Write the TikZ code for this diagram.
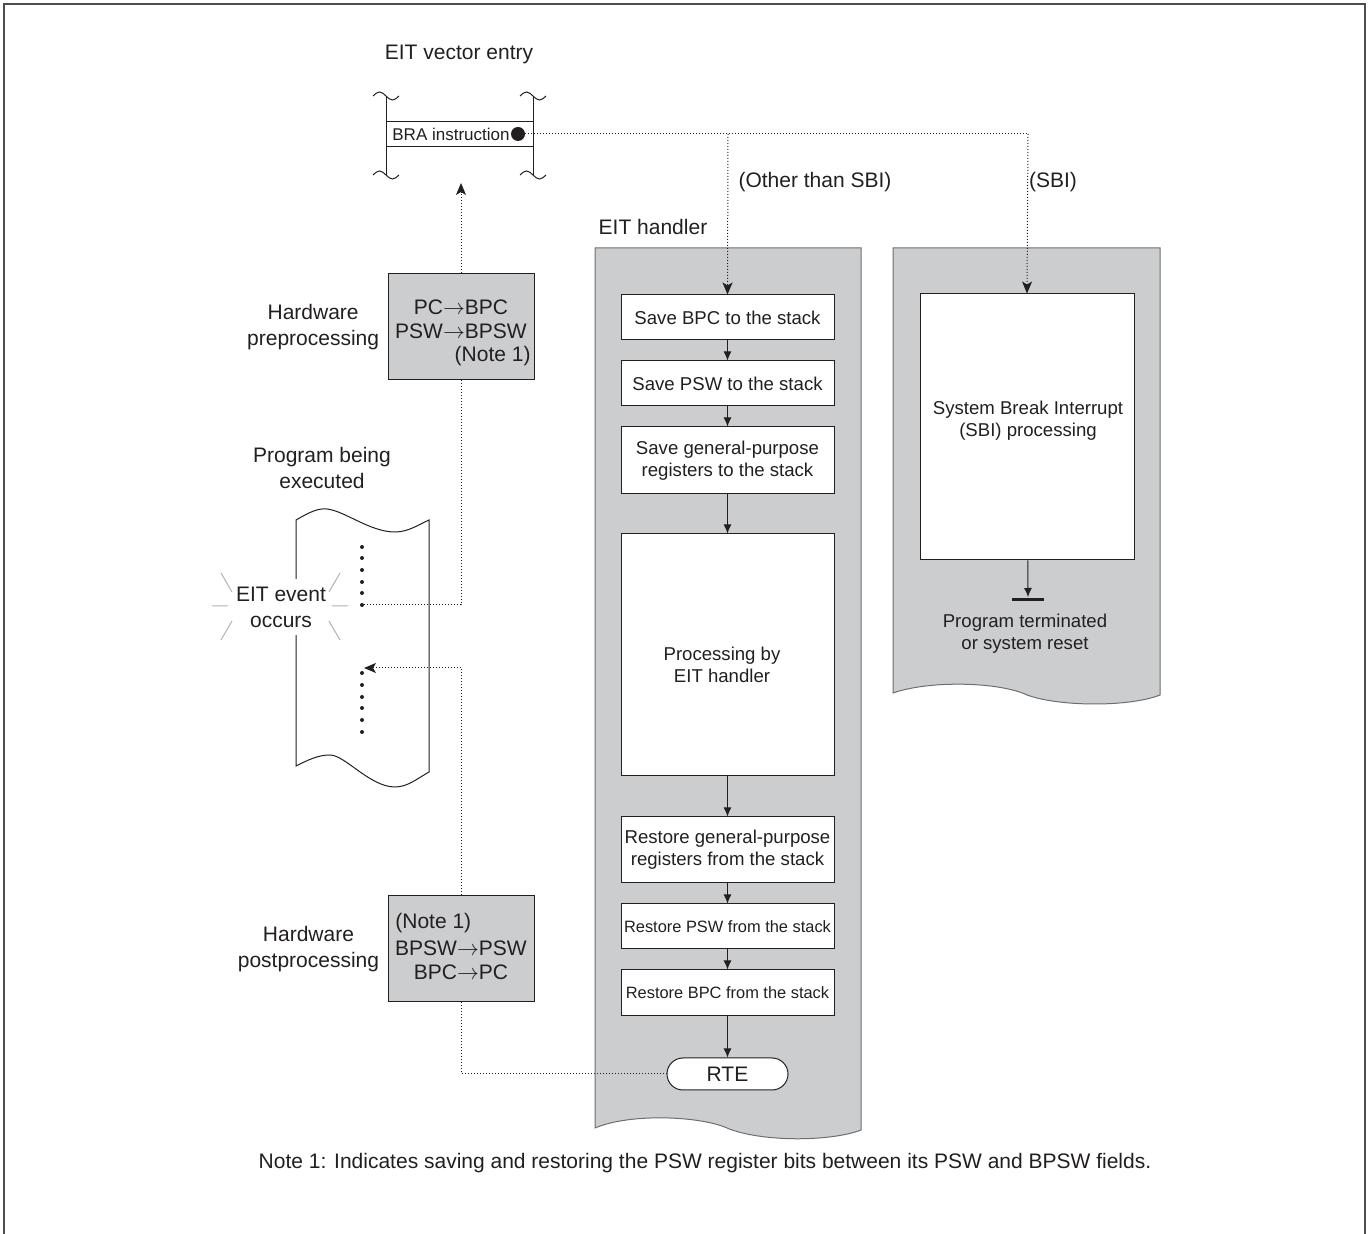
\documentclass[tikz,border=0pt]{standalone}
\usepackage{fontspec}
\setmainfont{Liberation Sans}
\usetikzlibrary{arrows.meta,calc,positioning}
\definecolor{panelgray}{HTML}{CCCDCF}
\definecolor{inkgray}{HTML}{231F20}
\definecolor{edgegray}{HTML}{6D6E70}
\newcommand{\lblfont}{\fontsize{10.5}{13}\selectfont}
\newcommand{\hwfont}{\fontsize{10.5}{12.2}\selectfont}
\newcommand{\boxfont}{\fontsize{9.3}{11}\selectfont}
\newcommand{\smallfont}{\fontsize{8.2}{10}\selectfont}
\newcommand{\toarrow}{\ensuremath{\rightarrow}}
% small wavy break mark centred at (#1,#2)
\newcommand{\breakmark}[2]{\draw[inkgray,line width=0.5pt] (#1-13,#2) sin (#1-6.5,#2-4) cos (#1,#2) sin (#1+6.5,#2+4) cos (#1+13,#2);}

\tikzset{
  stepbox/.style={draw=inkgray,fill=white,line width=0.5pt,minimum width=106.5pt,
    minimum height=22.5pt,align=center,inner sep=1pt,font=\boxfont,text=inkgray},
  hwbox/.style={draw=inkgray,fill=panelgray,line width=0.5pt,minimum width=73pt,
    minimum height=53pt,inner sep=0pt},
  hwtext/.style={font=\hwfont,text=inkgray,inner sep=0pt},
  lbl/.style={align=center,font=\lblfont,text=inkgray,inner sep=1pt},
  flow/.style={draw=inkgray,line width=0.5pt,-{Latex[length=4.5pt,width=4pt]}},
  dotline/.style={draw=inkgray,line width=0.5pt,dash pattern=on 0.5pt off 1pt},
  dotarrow/.style={dotline,-{Stealth[length=6pt,width=5pt,inset=1.5pt]}},
  panel/.style={fill=panelgray,draw=edgegray,line width=0.5pt},
}

\begin{document}
\begin{tikzpicture}[x=0.5pt,y=-0.5pt]
\useasboundingbox (0,0) rectangle (1372,1234);
\draw[edgegray!70!black,line width=1pt] (4,1234) -- (4,4) -- (1365,4) -- (1365,1234);

% gray panels
\draw[panel] (595,248) -- (861,248) -- (861,1130)
  .. controls (830,1142) and (760,1142) .. (727,1128)
  .. controls (700,1116) and (630,1113) .. (595,1128) -- cycle;
\draw[panel] (893,248) -- (1160,248) -- (1160,695)
  .. controls (1130,707) and (1060,707) .. (1027,695)
  .. controls (1000,682) and (930,680) .. (893,693) -- cycle;

% vector table
\node[lbl] (vectitle) at (459,54) {EIT vector entry};
\draw[inkgray,line width=0.5pt] (386,96) -- (386,175) (533,96) -- (533,175);
\breakmark{386}{96}
\breakmark{533}{96}
\breakmark{386}{175}
\breakmark{533}{175}
\node[draw=inkgray,fill=white,line width=0.5pt,minimum width=73.5pt,minimum height=12.5pt,
  inner sep=0pt] (bra) at (459.5,134.5) {};
\node[anchor=west,font=\fontsize{8.5}{10}\selectfont,text=inkgray,inner sep=0pt] (bratext)
  at (392,134.5) {BRA instruction};
\node[circle,fill=inkgray,inner sep=0pt,minimum size=7pt] (bradot) at (518,134) {};

% branches from the vector entry
\coordinate (otherturn) at (728,134);
\coordinate (sbiturn) at (1028,134);
\node[lbl] (othertxt) at (815,182) {(Other than SBI)};
\node[lbl] (sbitxt) at (1053,182) {(SBI)};
\node[lbl] (handlertitle) at (653,227) {EIT handler};

% EIT handler steps
\node[stepbox] (savebpc) at (727.5,317.5) {Save BPC to the stack};
\node[stepbox] (savepsw) at (727.5,383.5) {Save PSW to the stack};
\node[stepbox,minimum height=33.5pt] (savegpr) at (727.5,460.5) {Save general-purpose\\registers to the stack};
\node[stepbox,minimum height=121pt] (proc) at (727.5,655) {};
\node[lbl,font=\boxfont] (proctxt) at (722,665) {Processing by\\EIT handler};
\node[stepbox,minimum height=33pt] (restgpr) at (727.5,850) {Restore general-purpose\\registers from the stack};
\node[stepbox,font=\smallfont] (restpsw) at (727.5,926.5) {Restore PSW from the stack};
\node[stepbox,font=\smallfont,minimum height=23pt] (restbpc) at (727.5,993) {Restore BPC from the stack};
\node[stepbox,minimum width=60.5pt,minimum height=16pt,rounded corners=8pt,font=\lblfont] (rte) at (727.5,1074) {RTE};

\draw[flow] (savebpc) -- (savepsw);
\draw[flow] (savepsw) -- (savegpr);
\draw[flow] (savegpr) -- (proc);
\draw[flow] (proc) -- (restgpr);
\draw[flow] (restgpr) -- (restpsw);
\draw[flow] (restpsw) -- (restbpc);
\draw[flow] (restbpc) -- (rte);

% SBI side
\node[stepbox,minimum width=107pt,minimum height=133pt] (sbi) at (1027,427) {};
\node[lbl,font=\boxfont] (sbitext) at (1028,421) {System Break Interrupt\\(SBI) processing};
\coordinate (term) at (1028,597);
\draw[flow] (sbi) -- (term);
\draw[inkgray,line width=1.5pt] ($(term)+(-16,3)$) -- ($(term)+(16,3)$);
\node[lbl,font=\boxfont] (termtxt) at (1025,634) {Program terminated\\or system reset};

\draw[dotline] (bradot.east) -- (sbiturn);
\draw[dotarrow] (otherturn) -- (savebpc.north);
\draw[dotarrow] (sbiturn) -- (sbi.north);

% program being executed
\node[lbl] (progtitle) at (322,468) {Program being\\executed};
\draw[draw=inkgray,fill=white,line width=0.5pt] (296,520)
  .. controls (310,512) and (318,508) .. (327,509)
  .. controls (345,511) and (370,532) .. (395,532)
  .. controls (408,532) and (418,525) .. (429,520) -- (429,772)
  .. controls (418,778) and (408,787) .. (395,787)
  .. controls (370,787) and (345,755) .. (330,755)
  .. controls (318,755) and (308,760) .. (296,766) -- cycle;
\foreach \y in {547,558,570,582,593} \fill[inkgray] (362,\y) circle (2);
\foreach \y in {673,685,697,708,720,732} \fill[inkgray] (362,\y) circle (2);
\node[circle,fill=inkgray,inner sep=0pt,minimum size=2pt] (evdot) at (362,605) {};
\coordinate (retdot) at (364,668);
\node[lbl,fill=white,inner sep=4pt] (event) at (281,607) {EIT event\\occurs};
\draw[gray!60,line width=0.5pt]
  (212,606) -- (228,606) (332,606) -- (348,606)
  (221,573) -- (232,592) (340,573) -- (329,592)
  (232,621) -- (221,640) (329,621) -- (340,640);

% hardware pre- and postprocessing
\coordinate (vecin) at (461,183);
\node[hwbox] (pre) at (461,327) {};
\node[hwtext] at (461,307) {PC\toarrow BPC};
\node[hwtext] at (461,331) {PSW\toarrow BPSW};
\node[hwtext,anchor=east] at (531,356) {(Note 1)};
\node[lbl,left=3pt of pre] (prelbl) {Hardware\\preprocessing};

\node[hwbox] (post) at (461,949) {};
\node[hwtext,anchor=west] at (395,923) {(Note 1)};
\node[hwtext] at (461,948) {BPSW\toarrow PSW};
\node[hwtext] at (461,972) {BPC\toarrow PC};
\node[lbl,left=3pt of post] (postlbl) {Hardware\\postprocessing};

\draw[dotline] (evdot) -| (pre.south);
\draw[dotarrow] (pre.north) -- (vecin);
\draw[dotline] (rte.west) -| (post.south);
\draw[dotarrow] (post.north) |- (retdot);

% note
\node[lbl] (note) at (705,1163) {Note 1: Indicates saving and restoring the PSW register bits between its PSW and BPSW fields.};
\end{tikzpicture}
\end{document}
